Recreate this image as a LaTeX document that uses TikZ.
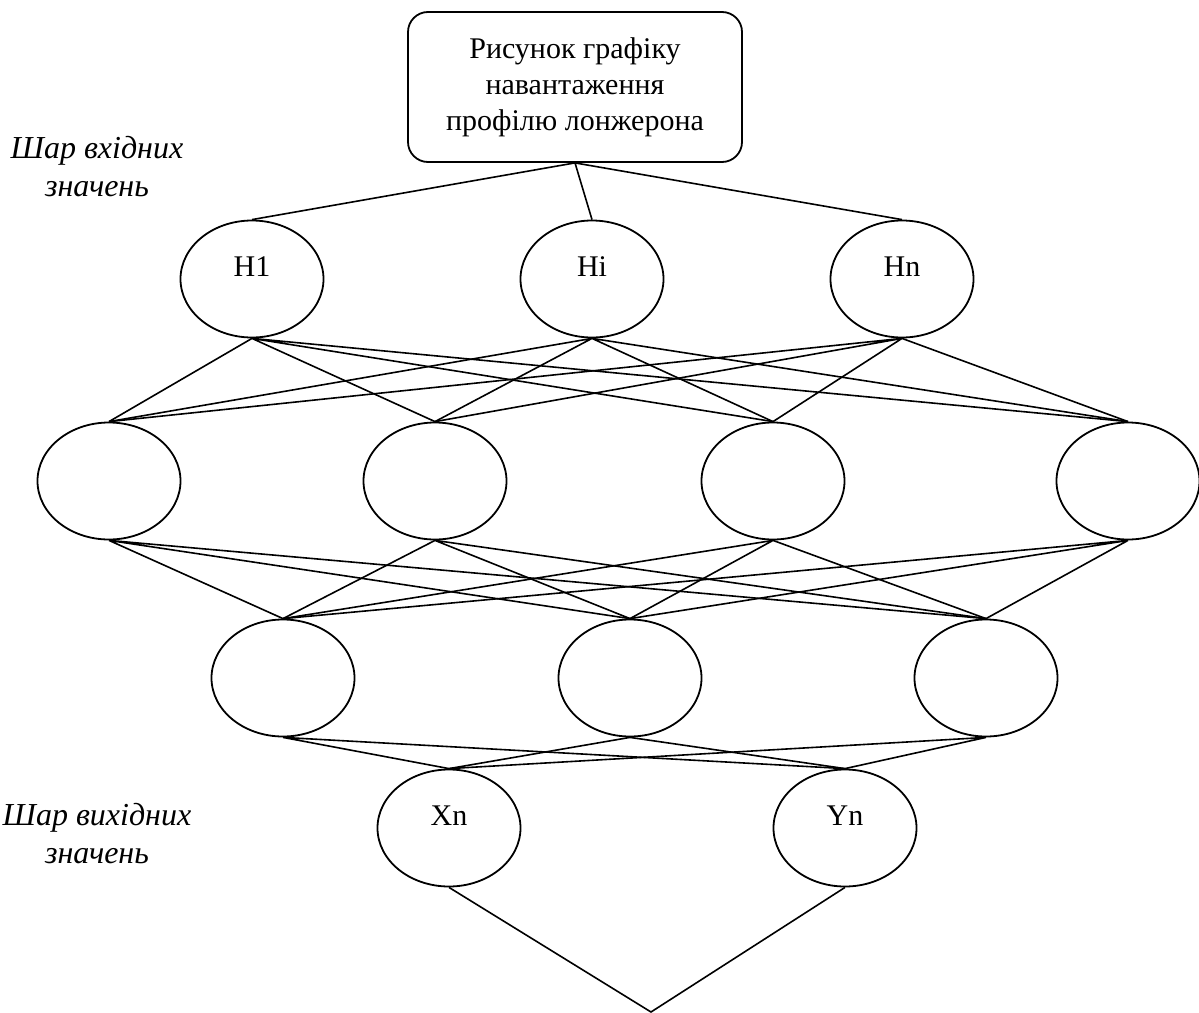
\documentclass[tikz,border=0pt]{standalone}
\usepackage{fontspec}
\setmainfont{Liberation Serif}
\usetikzlibrary{shapes.geometric}

\begin{document}
\begin{tikzpicture}[x=0.5pt, y=-0.5pt,
  neuron/.style={draw, ellipse, line width=0.9pt, minimum width=71.5pt, minimum height=58.5pt,
    inner sep=0pt, font=\fontsize{15}{18}\selectfont, text height=10pt, text depth=13pt},
  link/.style={line width=0.8pt},
  layer/.style={align=center, font=\fontsize{16}{19}\selectfont\itshape}]
  \useasboundingbox (0,0) rectangle (1199,1012);

  % Input picture
  \node[draw, line width=0.9pt, rounded corners=10pt, minimum width=167pt, minimum height=75pt,
    align=center, font=\fontsize{15}{18}\selectfont] (img) at (575,87)
    {Рисунок графіку\\навантаження\\профілю лонжерона};

  % Layer labels
  \node[layer] (inlabel) at (97,167) {Шар вхідних\\значень};
  \node[layer] (outlabel) at (97,834) {Шар вихідних\\значень};

  % Input layer
  \node[neuron] (h1) at (252,279) {H1};
  \node[neuron] (hi) at (592,279) {Hi};
  \node[neuron] (hn) at (902,279) {Hn};

  % Hidden layer 1
  \node[neuron] (a1) at (109,481) {};
  \node[neuron] (a2) at (435,481) {};
  \node[neuron] (a3) at (773,481) {};
  \node[neuron] (a4) at (1128,481) {};

  % Hidden layer 2
  \node[neuron] (b1) at (283,678) {};
  \node[neuron] (b2) at (630,678) {};
  \node[neuron] (b3) at (986,678) {};

  % Output layer
  \node[neuron] (xn) at (449,828) {Xn};
  \node[neuron] (yn) at (845,828) {Yn};
  \coordinate (out) at (651,1012);

  % Picture to inputs
  \draw[link] (img.south) -- (h1.north) (img.south) -- (hi.north) (img.south) -- (hn.north);

  % Inputs to hidden layer 1
  \draw[link] (h1.south) -- (a1.north) (h1.south) -- (a2.north) (h1.south) -- (a3.north) (h1.south) -- (a4.north);
  \draw[link] (hi.south) -- (a1.north) (hi.south) -- (a2.north) (hi.south) -- (a3.north) (hi.south) -- (a4.north);
  \draw[link] (hn.south) -- (a1.north) (hn.south) -- (a2.north) (hn.south) -- (a3.north) (hn.south) -- (a4.north);

  % Hidden layer 1 to hidden layer 2
  \draw[link] (a1.south) -- (b1.north) (a1.south) -- (b2.north) (a1.south) -- (b3.north);
  \draw[link] (a2.south) -- (b1.north) (a2.south) -- (b2.north) (a2.south) -- (b3.north);
  \draw[link] (a3.south) -- (b1.north) (a3.south) -- (b2.north) (a3.south) -- (b3.north);
  \draw[link] (a4.south) -- (b1.north) (a4.south) -- (b2.north) (a4.south) -- (b3.north);

  % Hidden layer 2 to outputs
  \draw[link] (b1.south) -- (xn.north) (b1.south) -- (yn.north);
  \draw[link] (b2.south) -- (xn.north) (b2.south) -- (yn.north);
  \draw[link] (b3.south) -- (xn.north) (b3.south) -- (yn.north);

  % Outputs joined
  \draw[link] (xn.south) -- (out) -- (yn.south);
\end{tikzpicture}
\end{document}
